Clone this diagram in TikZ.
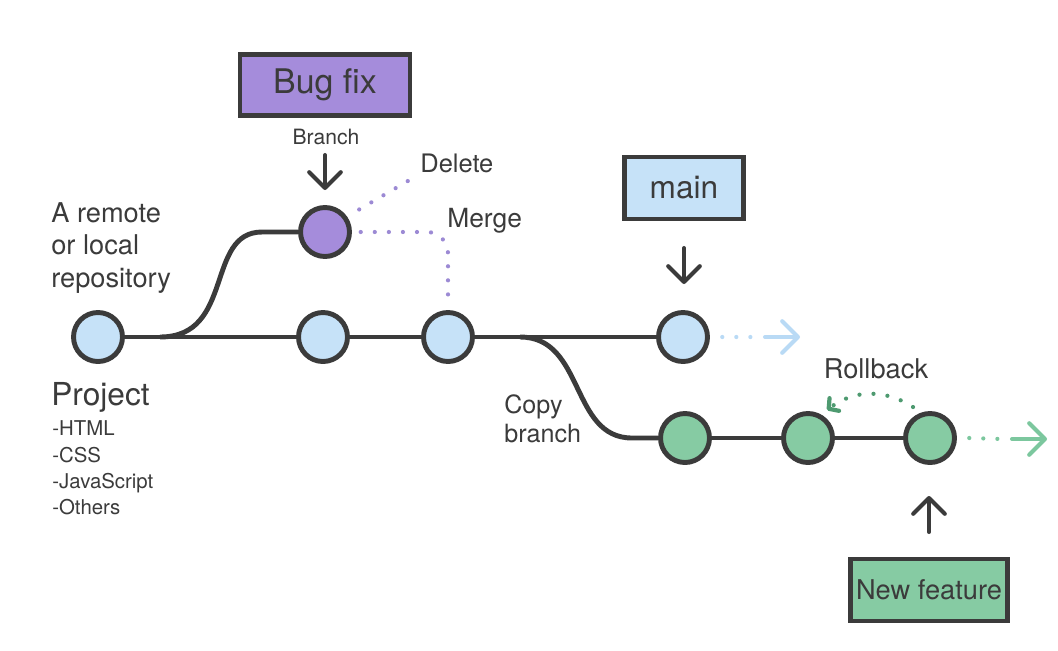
\documentclass[tikz,border=0pt]{standalone}
\usepackage{fontspec}
\setmainfont{TeX Gyre Heros}
\usepackage{xcolor}
\usepackage{tikz}
\usetikzlibrary{arrows.meta, positioning}
\definecolor{gitdark}{HTML}{3B3B3B}
\definecolor{gitblue}{HTML}{C6E2F8}
\definecolor{gitpurple}{HTML}{A58CDB}
\definecolor{gitgreen}{HTML}{86CBA3}
\definecolor{gitdot}{HTML}{9C8AD4}
\definecolor{gitsky}{HTML}{B9DAF5}
\definecolor{gitmint}{HTML}{7CC79E}
\definecolor{gitleaf}{HTML}{4E9A70}

\begin{document}
\begin{tikzpicture}[x=0.02cm, y=-0.02cm,
    commit/.style={circle, draw=gitdark, line width=2.8pt, minimum size=0.98cm, inner sep=0pt},
    tagbox/.style={rectangle, draw=gitdark, line width=2.8pt, inner sep=0pt, text=gitdark},
    trunk/.style={draw=gitdark, line width=2.8pt},
    pointer/.style={-{Straight Barb[length=9pt, width=18pt, round]}, gitdark, line width=2.3pt, line cap=round},
    dots/.style={line width=2.4pt, line cap=round, dash pattern=on 0pt off 8pt},
    tail/.style={-{Straight Barb[length=9pt, width=18pt, round]}, line width=2.3pt, line cap=round},
    txt/.style={text=gitdark, inner sep=0pt, align=left}
]
\useasboundingbox (0,0) rectangle (1058,650);

% Commits on main
\node[commit, fill=gitblue] (c0) at (98,337) {};
\node[commit, fill=gitblue] (m1) at (323,337) {};
\node[commit, fill=gitblue] (m2) at (448,337) {};
\node[commit, fill=gitblue] (m3) at (683,337) {};

% Bug fix commit
\node[commit, fill=gitpurple] (bug) at (325,232) {};

% Feature commits
\node[commit, fill=gitgreen] (g1) at (685,438) {};
\node[commit, fill=gitgreen] (g2) at (808,438) {};
\node[commit, fill=gitgreen] (g3) at (930,438) {};

% Branch tags
\node[tagbox, fill=gitpurple, minimum width=3.4cm, minimum height=1.22cm, font={\fontsize{19.3pt}{23pt}\selectfont}] (bugtag) at (325,85) {Bug fix};
\node[tagbox, fill=gitblue, minimum width=2.38cm, minimum height=1.24cm, font={\fontsize{18pt}{22pt}\selectfont}] (maintag) at (684,188) {main};
\node[tagbox, fill=gitgreen, minimum width=3.14cm, minimum height=1.24cm, font={\fontsize{15.5pt}{19pt}\selectfont}] (feattag) at (929,590) {New feature};

% Forks
\coordinate (fork1) at (160,337);
\coordinate (fork2) at (520,337);

% Connections
\draw[trunk] (c0) -- (m1) -- (m2) -- (m3);
\draw[trunk] (g1) -- (g2) -- (g3);
\draw[trunk] (fork1) .. controls (235,337) and (205,232) .. (262,232) -- (bug);
\draw[trunk] (fork2) .. controls (585,337) and (570,438) .. (632,438) -- (g1);

% Pointers
\coordinate (p1) at (325,155);
\coordinate (p2) at (684,248);
\coordinate (p3) at (929,532);
\draw[pointer] (p1) -- (325,190);
\draw[pointer] (p2) -- (684,284);
\draw[pointer] (p3) -- (929,496);

% Delete / merge
\coordinate (del) at (413,178);
\draw[dots, gitdot, shorten <=8pt] (bug.35) -- (del);
\draw[dots, gitdot, rounded corners=12] ([xshift=5pt]bug.east) -| ([yshift=4pt]m2.north);

% Continuations
\coordinate (mgap) at (765,337);
\coordinate (mend) at (800,337);
\draw[dots, gitsky] ([xshift=7pt]m3.east) -- ([xshift=-6pt]mgap);
\draw[tail, gitsky] (mgap) -- (mend);
\coordinate (ggap) at (1012,439);
\coordinate (gend) at (1047,439);
\draw[dots, gitmint] ([xshift=7pt]g3.east) -- ([xshift=-6pt]ggap);
\draw[tail, gitmint] (ggap) -- (gend);

% Rollback
\coordinate (rb0) at (913,407);
\coordinate (rb1) at (827,410);
\draw[dots, gitleaf, -{Straight Barb[length=4pt, width=9pt, round]}] (rb0) to[bend right=35] (rb1);

% Labels
\node[txt, font={\fontsize{12pt}{14pt}\selectfont}] (branchlbl) at (326,137) {Branch};
\node[txt, anchor=west, font={\fontsize{14.5pt}{17pt}\selectfont}] (dellbl) at (420,163) {Delete};
\node[txt, anchor=west, font={\fontsize{15pt}{18pt}\selectfont}] (mergelbl) at (447,221) {Merge};
\node[txt, font={\fontsize{15.5pt}{18pt}\selectfont}] (rolllbl) at (876,369) {Rollback};
\node[txt, anchor=west, font={\fontsize{14.3pt}{16.4pt}\selectfont}] (copylbl) at (504,419) {Copy\\branch};
\node[txt, anchor=west, font={\fontsize{15.5pt}{18.7pt}\selectfont}] (repolbl) at (51,248) {A remote\\or local\\repository};
\node[txt, anchor=west, font={\fontsize{18pt}{21pt}\selectfont}] (projlbl) at (51,397) {Project};
\node[txt, anchor=west, font={\fontsize{11.6pt}{14.9pt}\selectfont}] (filelbl) at (52,468) {-HTML\\-CSS\\-JavaScript\\-Others};

\end{tikzpicture}
\end{document}
